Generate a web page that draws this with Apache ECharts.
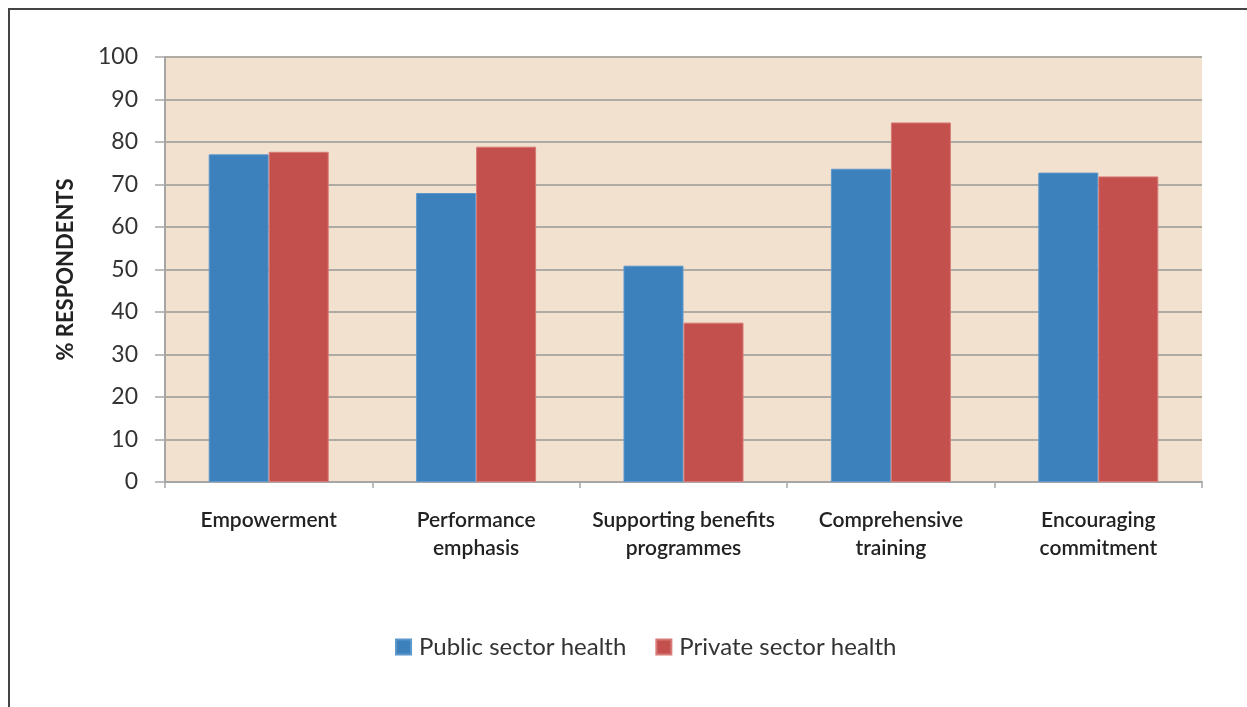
<!DOCTYPE html>
<html>
<head>
<meta charset="utf-8">
<script src="https://cdn.jsdelivr.net/npm/echarts@6/dist/echarts.min.js"></script>
<style>
  html, body { margin: 0; padding: 0; background: #fff; }
  #frame { position: absolute; left: 8px; top: 8px; width: 1300px; height: 800px;
           border-left: 2px solid #444; border-top: 2px solid #444; box-sizing: border-box; }
  #chart { position: absolute; left: 0; top: 0; width: 1247px; height: 707px; }
</style>
</head>
<body>
<div id="frame"></div>
<div id="chart"></div>
<script>
// Categories and survey results (% of respondents)
const categories = [
  'Empowerment',
  'Performance\nemphasis',
  'Supporting benefits\nprogrammes',
  'Comprehensive\ntraining',
  'Encouraging\ncommitment'
];
const publicSector = [77.1, 68.0, 50.9, 73.7, 72.8];
const privateSector = [77.7, 78.9, 37.5, 84.6, 71.9];
const seriesNames = ['Public sector health', 'Private sector health'];
const yTicks = { min: 0, max: 100, interval: 10 };

const font = 'Lato, "Open Sans", sans-serif';
const chart = echarts.init(document.getElementById('chart'));

chart.setOption({
  animation: false,
  textStyle: { fontFamily: font },
  grid: {
    left: 165, right: 45, top: 57, bottom: 225,
    show: true, backgroundColor: '#f2e1cf', borderWidth: 0
  },
  legend: {
    bottom: 43, left: 390,
    itemWidth: 15, itemHeight: 15, itemGap: 29,
    icon: 'rect',
    textStyle: { fontSize: 24, color: '#333', fontFamily: font, padding: [0, 0, 0, 3] },
    data: seriesNames
  },
  xAxis: {
    type: 'category',
    data: categories,
    axisLine: { lineStyle: { color: '#a6a6a6', width: 2 } },
    axisTick: { show: true, length: 6, lineStyle: { color: '#a6a6a6', width: 1.5 } },
    axisLabel: {
      margin: 24, fontSize: 21, fontWeight: 600, color: '#222',
      lineHeight: 28, interval: 0, fontFamily: font
    }
  },
  yAxis: {
    type: 'value',
    min: yTicks.min, max: yTicks.max, interval: yTicks.interval,
    name: '% RESPONDENTS',
    nameLocation: 'middle',
    nameGap: 88,
    nameRotate: 90,
    nameTextStyle: { fontSize: 22, fontWeight: 'bold', color: '#222', fontFamily: font },
    axisLine: { show: true, lineStyle: { color: '#a6a6a6', width: 2 } },
    axisTick: { show: true, length: 10, lineStyle: { color: '#a6a6a6', width: 1.5 } },
    axisLabel: { fontSize: 23, color: '#333', margin: 27, fontFamily: font },
    splitLine: { lineStyle: { color: '#b0aaa4', width: 2 } }
  },
  series: [
    {
      name: seriesNames[0], type: 'bar', data: publicSector,
      barWidth: 60, barGap: '0%',
      itemStyle: { color: '#3c80bc', borderColor: '#5d98cc', borderWidth: 1 }
    },
    {
      name: seriesNames[1], type: 'bar', data: privateSector,
      barWidth: 60, barGap: '0%',
      itemStyle: { color: '#c4504d', borderColor: '#d87a77', borderWidth: 1 }
    }
  ]
});
</script>
</body>
</html>
